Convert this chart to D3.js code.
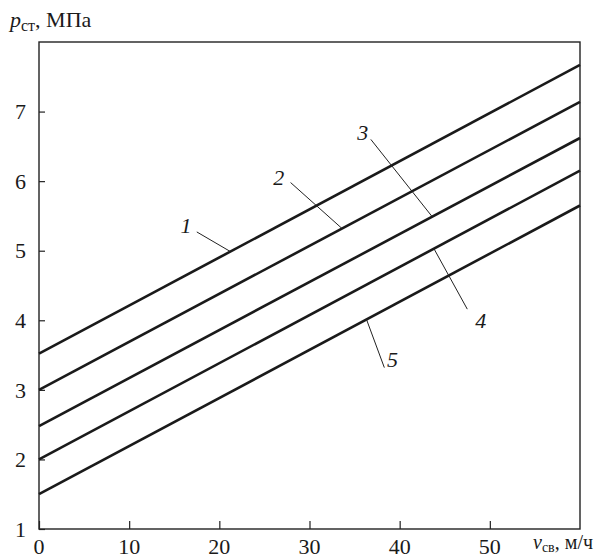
<!DOCTYPE html>
<html><head><meta charset="utf-8">
<script src="https://cdn.jsdelivr.net/npm/d3@7"></script>
<style>body{margin:0;background:#fff;}</style>
</head><body>
<svg id="c" width="595" height="560" font-family="'Liberation Serif', 'Times New Roman', Tinos, 'DejaVu Serif', serif"></svg>
<script>
const xTicks = [0, 10, 20, 30, 40, 50];
const yTicks = [1, 2, 3, 4, 5, 6, 7];
const seriesNames = ["1", "2", "3", "4", "5"];
const xValues = [0, 60];
const series1 = [3.52, 7.67];
const series2 = [3.0, 7.14];
const series3 = [2.48, 6.62];
const series4 = [2.0, 6.15];
const series5 = [1.5, 5.65];
const allSeries = [series1, series2, series3, series4, series5];
// leader annotations: label position and leader from/to (data coords)
const labelX = [16.3, 26.6, 35.9, 49.0, 39.2];
const labelY = [5.36, 6.06, 6.7, 4.0, 3.44];
const leaderFromX = [17.5, 27.9, 36.8, 47.5, 38.3];
const leaderFromY = [5.27, 5.98, 6.6, 4.16, 3.32];
const leaderToX = [21.2, 33.6, 43.6, 43.8, 36.3];
const leaderToY = [4.99, 5.32, 5.49, 5.03, 4.02];

const FONT = "'Liberation Serif', 'Times New Roman', Tinos, 'DejaVu Serif', serif";
const svg = d3.select("#c");
const L = 39, R = 580, T = 42, B = 529;
const x = d3.scaleLinear().domain([0, 60]).range([L, R]);
const y = d3.scaleLinear().domain([1, 8]).range([B, T]);

// frame
svg.append("rect").attr("x", L).attr("y", T).attr("width", R - L).attr("height", B - T)
  .attr("fill", "none").attr("stroke", "#222").attr("stroke-width", 1.4);

// x axis ticks (inward)
const xa = svg.append("g").attr("transform", `translate(0,${B})`)
  .call(d3.axisTop(x).tickValues(xTicks).tickSize(8).tickFormat(""));
xa.select(".domain").remove();
xa.selectAll("line").attr("stroke", "#222").attr("stroke-width", 1.2);
svg.append("g").selectAll("text").data(xTicks).join("text")
  .attr("x", d => x(d)).attr("y", 554).attr("text-anchor", "middle")
  .attr("font-family", FONT).attr("fill", "#1a1a1a")
  .attr("font-size", 22).text(d => d);

// y axis ticks (inward)
const ya = svg.append("g").attr("transform", `translate(${L},0)`)
  .call(d3.axisRight(y).tickValues(yTicks).tickSize(6).tickFormat(""));
ya.select(".domain").remove();
ya.selectAll("line").attr("stroke", "#222").attr("stroke-width", 1.2);
svg.append("g").selectAll("text").data(yTicks).join("text")
  .attr("x", 26).attr("y", d => y(d)).attr("dy", "0.35em").attr("text-anchor", "end")
  .attr("font-family", FONT).attr("fill", "#1a1a1a")
  .attr("font-size", 22).text(d => d);

// lines
const line = d3.line().x((d, i) => x(xValues[i])).y(d => y(d));
svg.append("g").selectAll("path").data(allSeries).join("path")
  .attr("d", d => line(d)).attr("fill", "none").attr("stroke", "#1a1a1a").attr("stroke-width", 2.6);

// leaders
svg.append("g").selectAll("line").data(seriesNames).join("line")
  .attr("x1", (d, i) => x(leaderFromX[i])).attr("y1", (d, i) => y(leaderFromY[i]))
  .attr("x2", (d, i) => x(leaderToX[i])).attr("y2", (d, i) => y(leaderToY[i]))
  .attr("stroke", "#222").attr("stroke-width", 1);
svg.append("g").selectAll("text").data(seriesNames).join("text")
  .attr("x", (d, i) => x(labelX[i])).attr("y", (d, i) => y(labelY[i])).attr("dy", "0.35em")
  .attr("text-anchor", "middle").attr("font-family", FONT).attr("fill", "#1a1a1a")
  .attr("font-size", 22).attr("font-style", "italic").text(d => d);

// axis titles
const yt = svg.append("text").attr("x", 10).attr("y", 27).attr("font-size", 22)
  .attr("font-family", FONT).attr("fill", "#1a1a1a");
yt.append("tspan").attr("font-style", "italic").text("p");
yt.append("tspan").attr("font-size", 16).attr("dy", 4).text("ст");
yt.append("tspan").attr("dy", -4).text(", МПа");

const xt = svg.append("text").attr("text-anchor", "end").attr("x", 593).attr("y", 549).attr("font-size", 20)
  .attr("font-family", FONT).attr("fill", "#1a1a1a");
xt.append("tspan").attr("font-style", "italic").text("v");
xt.append("tspan").attr("font-size", 14).attr("dy", 3).text("св");
xt.append("tspan").attr("dy", -3).text(", м/ч");
</script>
</body></html>
